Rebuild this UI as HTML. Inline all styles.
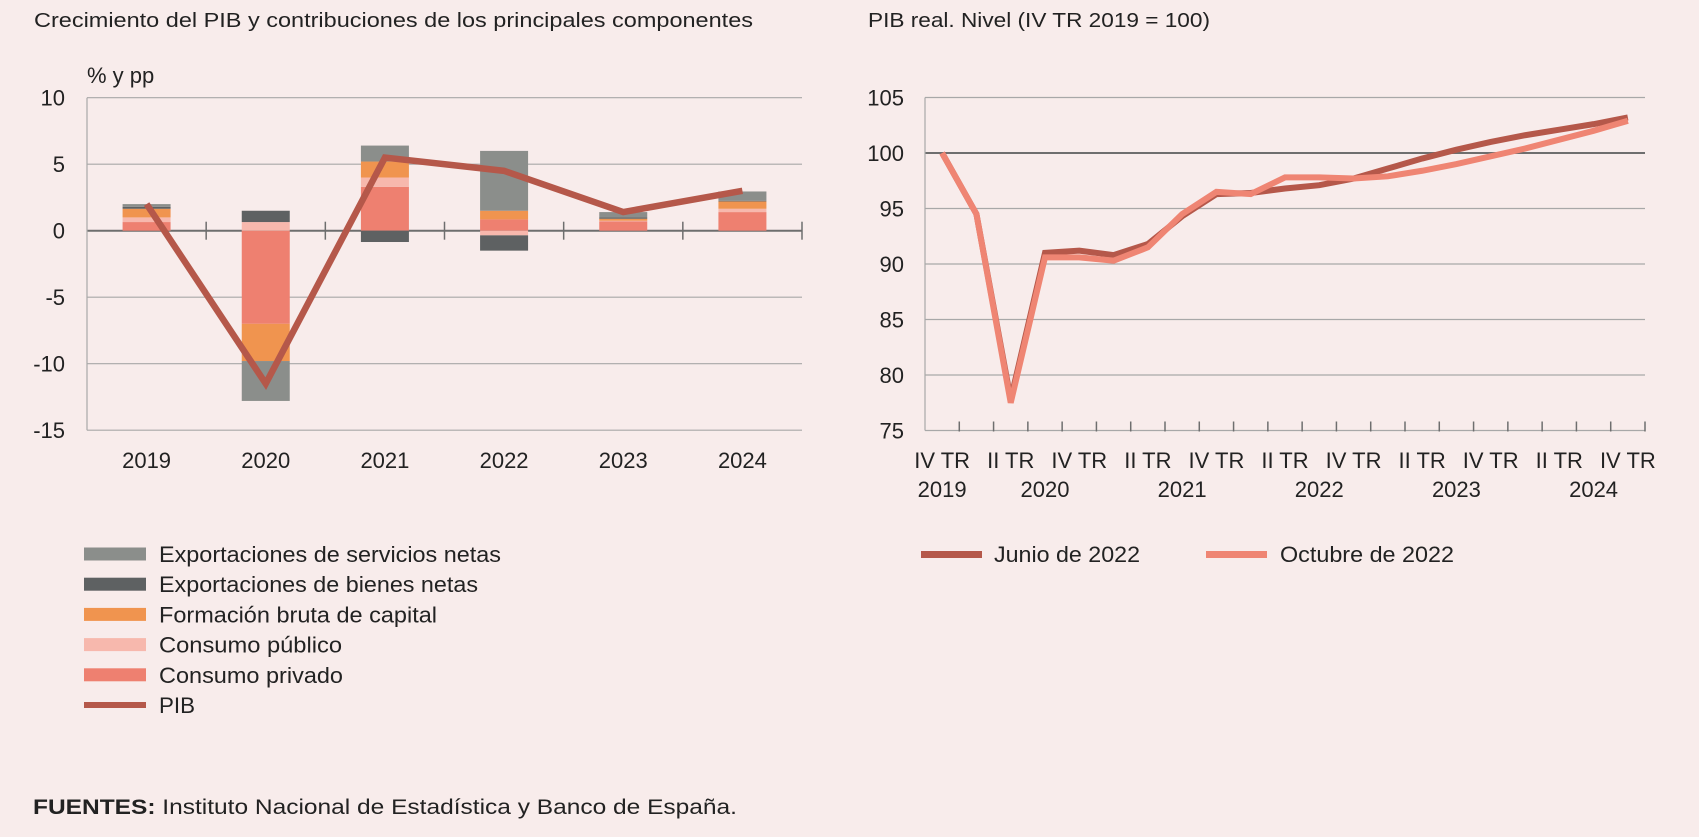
<!DOCTYPE html>
<html><head><meta charset="utf-8"><style>
html,body{margin:0;padding:0;background:#f8eceb}
svg{display:block;font-family:"Liberation Sans",sans-serif}
</style></head><body>
<svg id="c" width="1699" height="837" viewBox="0 0 1699 837">
<rect width="1699" height="837" fill="#f8eceb"/>
<text x="34" y="27" font-size="20" fill="#222" textLength="719" lengthAdjust="spacingAndGlyphs">Crecimiento del PIB y contribuciones de los principales componentes</text>
<text x="868" y="27" font-size="20" fill="#222" textLength="342" lengthAdjust="spacingAndGlyphs">PIB real. Nivel (IV TR 2019 = 100)</text>
<text x="87" y="83" font-size="22" fill="#222">% y pp</text>
<g id="left"></g>
<g id="right"></g>
<g id="legL"></g>
<g id="legR"></g>
<text x="33" y="814" font-size="21" fill="#222" textLength="704" lengthAdjust="spacingAndGlyphs"><tspan font-weight="bold">FUENTES:</tspan> Instituto Nacional de Estadística y Banco de España.</text>
</svg>
<script>
const years=["2019","2020","2021","2022","2023","2024"];
const privado=[0.65,-7.0,3.3,0.85,0.7,1.4];
const publico=[0.35,0.65,0.7,-0.35,0.05,0.25];
const capital=[0.65,-2.8,1.2,0.65,0.15,0.55];
const bienes=[0.15,0.85,-0.85,-1.15,0.1,0.05];
const servicios=[0.2,-3.0,1.2,4.5,0.4,0.7];
const pib=[2.0,-11.5,5.5,4.5,1.4,3.0];
const leftTicks=[10,5,0,-5,-10,-15];

const quarters=["IV TR","","II TR","","IV TR","","II TR","","IV TR","","II TR","","IV TR","","II TR","","IV TR","","II TR","","IV TR"];
const qYears=["2019","","","2020","","","","2021","","","","2022","","","","2023","","","","2024",""];
const junio=[100,94.5,77.8,91.0,91.2,90.8,91.8,94.3,96.3,96.4,96.8,97.1,97.7,98.6,99.5,100.3,101.0,101.6,102.1,102.6,103.2];
const octubre=[100,94.5,77.5,90.6,90.6,90.3,91.5,94.5,96.5,96.3,97.8,97.8,97.7,97.9,98.4,99.0,99.7,100.4,101.2,102.0,102.9];
const rightTicks=[105,100,95,90,85,80,75];

const NS="http://www.w3.org/2000/svg";
function mk(p,t,a){const e=document.createElementNS(NS,t);for(const k in a)e.setAttribute(k,a[k]);p.appendChild(e);return e;}
const C={serv:"#8b8e8b",bien:"#5e6162",cap:"#f0944f",pub:"#f7b8ad",priv:"#ee8070",pib:"#b5584a",oct:"#ef8573"};

// LEFT
const L=document.getElementById('left');
const lx0=87,lx1=802,ly=v=>230.7-v*13.3;
const cw=(lx1-lx0)/years.length;
leftTicks.forEach(t=>{
  const g=mk(L,'line',{x1:lx0,x2:lx1,y1:ly(t),y2:ly(t),stroke:t===0?'#6e6e6e':'#a8a8a8','stroke-width':t===0?2:1.2});
  
  
  const tx=mk(L,'text',{x:65,y:ly(t)+8,'text-anchor':'end','font-size':22,fill:'#222'});tx.textContent=t;
  
  
});
const ax=mk(L,'line',{x1:lx0,x2:lx0,y1:ly(10),y2:ly(-15),stroke:'#a8a8a8','stroke-width':1.2});


for(let i=1;i<=years.length;i++){const tk=mk(L,'line',{x1:lx0+cw*i,x2:lx0+cw*i,y1:ly(0)-9,y2:ly(0)+9,stroke:'#6e6e6e','stroke-width':1.5});
  
  }
const series=[["privado",privado,C.priv],["publico",publico,C.pub],["capital",capital,C.cap],["bienes",bienes,C.bien],["servicios",servicios,C.serv]];
years.forEach((y,i)=>{
  const cx=lx0+cw*(i+0.5),bw=48;let pos=0,neg=0;
  series.forEach(([n,arr,col])=>{
    const v=arr[i];let a,b;
    if(v>=0){a=pos;b=pos+v;pos=b;}else{a=neg;b=neg+v;neg=b;}
    const r=mk(L,'rect',{x:cx-bw/2,width:bw,y:Math.min(ly(a),ly(b)),height:Math.abs(ly(a)-ly(b)),fill:col});
    
    
  });
  const t=mk(L,'text',{x:cx,y:468,'text-anchor':'middle','font-size':22,fill:'#222'});t.textContent=y;
  
  
});
const pl=mk(L,'polyline',{points:pib.map((v,i)=>(lx0+cw*(i+0.5))+','+ly(v)).join(' '),fill:'none',stroke:C.pib,'stroke-width':6.5,'stroke-linejoin':'miter'});



// RIGHT
const R=document.getElementById('right');
const rx0=925,rx1=1645,ry=v=>97.5+(105-v)*11.1;
const qw=(rx1-rx0)/quarters.length;
rightTicks.forEach(t=>{
  const g=mk(R,'line',{x1:rx0,x2:rx1,y1:ry(t),y2:ry(t),stroke:t===100?'#6e6e6e':'#a8a8a8','stroke-width':t===100?2:1.2});
  
  
  const tx=mk(R,'text',{x:904,y:ry(t)+8,'text-anchor':'end','font-size':22,fill:'#222'});tx.textContent=t;
  
  
});
const rax=mk(R,'line',{x1:rx0,x2:rx0,y1:ry(105),y2:ry(75),stroke:'#a8a8a8','stroke-width':1.2});


for(let i=1;i<=quarters.length;i++){const tk=mk(R,'line',{x1:rx0+qw*i,x2:rx0+qw*i,y1:ry(75)-9,y2:ry(75)+1,stroke:'#6e6e6e','stroke-width':1.5});
  
  }
quarters.forEach((q,i)=>{
  const cx=rx0+qw*(i+0.5);
  if(q){const t=mk(R,'text',{x:cx,y:468,'text-anchor':'middle','font-size':22,fill:'#222'});t.textContent=q;
    
    }
  if(qYears[i]){const t=mk(R,'text',{x:cx,y:497,'text-anchor':'middle','font-size':22,fill:'#222'});t.textContent=qYears[i];
    
    }
});
const lj=mk(R,'polyline',{points:junio.map((v,i)=>(rx0+qw*(i+0.5))+','+ry(v)).join(' '),fill:'none',stroke:C.pib,'stroke-width':6});


const lo=mk(R,'polyline',{points:octubre.map((v,i)=>(rx0+qw*(i+0.5))+','+ry(v)).join(' '),fill:'none',stroke:C.oct,'stroke-width':6});



// LEGENDS
const LL=document.getElementById('legL');
[["Exportaciones de servicios netas",C.serv,13,342],["Exportaciones de bienes netas",C.bien,13,319],["Formación bruta de capital",C.cap,13,278],["Consumo público",C.pub,13,183],["Consumo privado",C.priv,13,184],["PIB",C.pib,6,36]].forEach((e,i)=>{
  const y=554+i*30.2;
  const r=mk(LL,'rect',{x:84,y:y-e[2]/2,width:62,height:e[2],fill:e[1]});
  
  
  const t=mk(LL,'text',{x:159,y:y+8,'font-size':22,fill:'#222',textLength:e[3],lengthAdjust:'spacingAndGlyphs'});t.textContent=e[0];
  
  
});
const LR=document.getElementById('legR');
[["Junio de 2022",C.pib,921,994,146],["Octubre de 2022",C.oct,1206,1280,174]].forEach(e=>{
  const r=mk(LR,'rect',{x:e[2],y:551,width:61,height:7,fill:e[1]});
  
  
  const t=mk(LR,'text',{x:e[3],y:562,'font-size':22,fill:'#222',textLength:e[4],lengthAdjust:'spacingAndGlyphs'});t.textContent=e[0];
  
  
});
</script>
</body></html>
